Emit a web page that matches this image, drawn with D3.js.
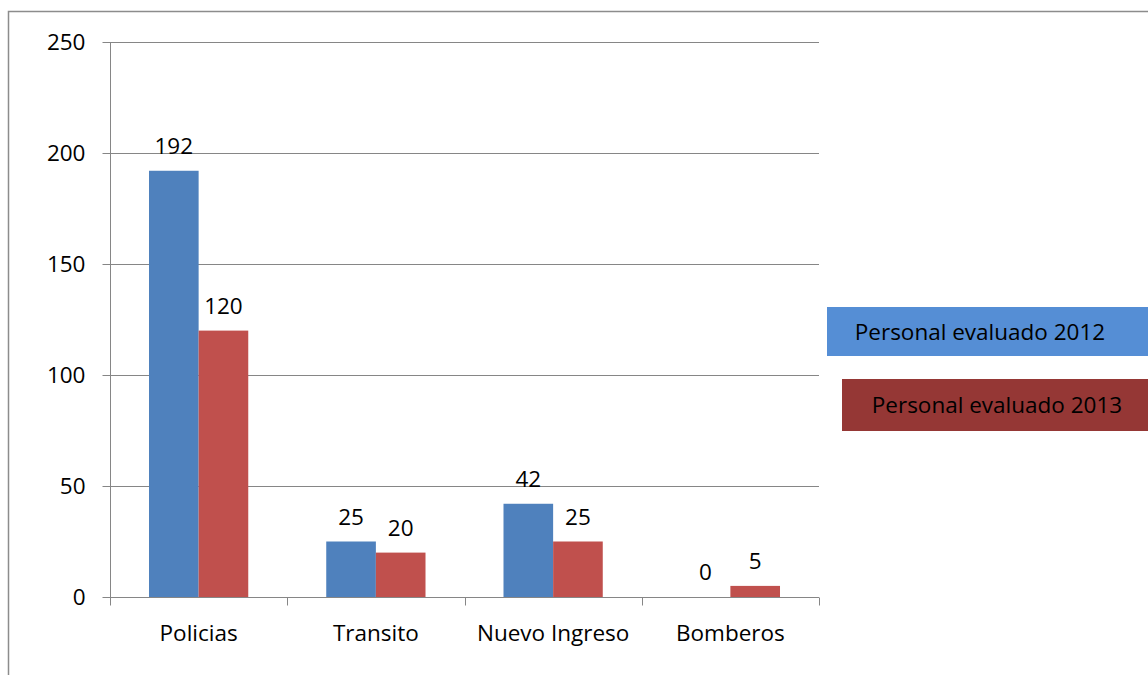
<!DOCTYPE html>
<html>
<head>
<meta charset="utf-8">
<script src="https://cdn.jsdelivr.net/npm/d3@7"></script>
<style>
  body { margin: 0; background: #fff; }
  text { font-family: "Open Sans", Lato, sans-serif; font-size: 22.5px; fill: #000; }
</style>
</head>
<body>
<div id="chart"></div>
<script>
var categories = ["Policias", "Transito", "Nuevo Ingreso", "Bomberos"];
var seriesNames = ["Personal evaluado 2012", "Personal evaluado 2013"];
var values2012 = [192, 25, 42, 0];
var values2013 = [120, 20, 25, 5];
var yTicks = [0, 50, 100, 150, 200, 250];

var width = 1148, height = 675;
var plot = {left: 110, right: 819, top: 42, bottom: 597};
var barColors = ["#4F81BD", "#C0504D"];
var legendColors = ["#558ED5", "#953735"];
var fontSize = "22.5px";

var svg = d3.select("#chart").append("svg").attr("width", width).attr("height", height);

// outer frame (only top and left show)
svg.append("path").attr("d", "M8.5,675 V11.5 H1148").attr("fill", "none").attr("stroke", "#8c8c8c").attr("stroke-width", 1.5);

var y = d3.scaleLinear().domain([0, 250]).range([plot.bottom, plot.top]);
var x0 = d3.scaleBand().domain(categories).range([plot.left, plot.right]);
var x1 = d3.scaleBand().domain(seriesNames).range([x0.bandwidth() * 0.22, x0.bandwidth() * 0.78]);

// gridlines
svg.append("g").selectAll("line").data(yTicks.filter(function(d){ return d > 0; })).enter().append("line")
    .attr("x1", plot.left).attr("x2", plot.right)
    .attr("y1", function(d){ return Math.round(y(d)) + 0.5; })
    .attr("y2", function(d){ return Math.round(y(d)) + 0.5; })
    .attr("stroke", "#868686").attr("stroke-width", 1);

// bars
var rows = categories.map(function(c, i) {
    return {cat: c, vals: [values2012[i], values2013[i]]};
});
var groups = svg.append("g").selectAll("g").data(rows).enter().append("g")
    .attr("transform", function(d){ return "translate(" + x0(d.cat) + ",0)"; });

groups.selectAll("rect").data(function(d){ return d.vals; }).enter().append("rect")
    .attr("x", function(d, j){ return x1(seriesNames[j]); })
    .attr("width", x1.bandwidth())
    .attr("y", function(d){ return y(d); })
    .attr("height", function(d){ return y(0) - y(d); })
    .attr("fill", function(d, j){ return barColors[j]; });

groups.selectAll("text").data(function(d){ return d.vals; }).enter().append("text")
    .attr("x", function(d, j){ return x1(seriesNames[j]) + x1.bandwidth() / 2; })
    .attr("y", function(d){ return y(d) - 17; })
    .attr("text-anchor", "middle")
    .text(function(d){ return d; });

// y axis
var yAxis = d3.axisLeft(y).tickValues(yTicks).tickSize(8).tickPadding(17);
var gy = svg.append("g").attr("transform", "translate(" + (plot.left + 0.5) + ",0)").call(yAxis);
gy.select(".domain").attr("stroke", "#868686").attr("d", "M0," + plot.top + "V" + plot.bottom);
gy.selectAll(".tick line").attr("stroke", "#868686");
gy.selectAll(".tick text").style("font-family", "'Open Sans', Lato, sans-serif").style("font-size", fontSize).attr("fill", "#000");

// x axis
var xAxis = d3.axisBottom(x0).tickSize(0).tickPadding(28);
var gx = svg.append("g").attr("transform", "translate(0," + (plot.bottom + 0.5) + ")").call(xAxis);
gx.select(".domain").attr("stroke", "#868686").attr("d", "M" + plot.left + ",0H" + plot.right);
gx.selectAll(".tick text").style("font-family", "'Open Sans', Lato, sans-serif").style("font-size", fontSize).attr("fill", "#000");
gx.selectAll(".sep").data(d3.range(categories.length + 1)).enter().append("line")
    .attr("class", "sep")
    .attr("x1", function(i){ return Math.round(plot.left + i * x0.bandwidth()) + 0.5; })
    .attr("x2", function(i){ return Math.round(plot.left + i * x0.bandwidth()) + 0.5; })
    .attr("y1", 0).attr("y2", 8).attr("stroke", "#868686");

// legend boxes (two separate text boxes, text not quite centred)
var legendBoxes = [{x: 827, y: 307, h: 49, tx: 980}, {x: 842, y: 379, h: 52, tx: 997}];
var lg = svg.append("g").selectAll("g").data(seriesNames).enter().append("g");
lg.append("rect")
    .attr("x", function(d, i){ return legendBoxes[i].x; })
    .attr("y", function(d, i){ return legendBoxes[i].y; })
    .attr("width", function(d, i){ return width - legendBoxes[i].x; })
    .attr("height", function(d, i){ return legendBoxes[i].h; })
    .attr("fill", function(d, i){ return legendColors[i]; });
lg.append("text")
    .attr("x", function(d, i){ return legendBoxes[i].tx; })
    .attr("y", function(d, i){ return legendBoxes[i].y + legendBoxes[i].h / 2 + 8; })
    .attr("text-anchor", "middle")
    .text(function(d){ return d; });
</script>
</body>
</html>
